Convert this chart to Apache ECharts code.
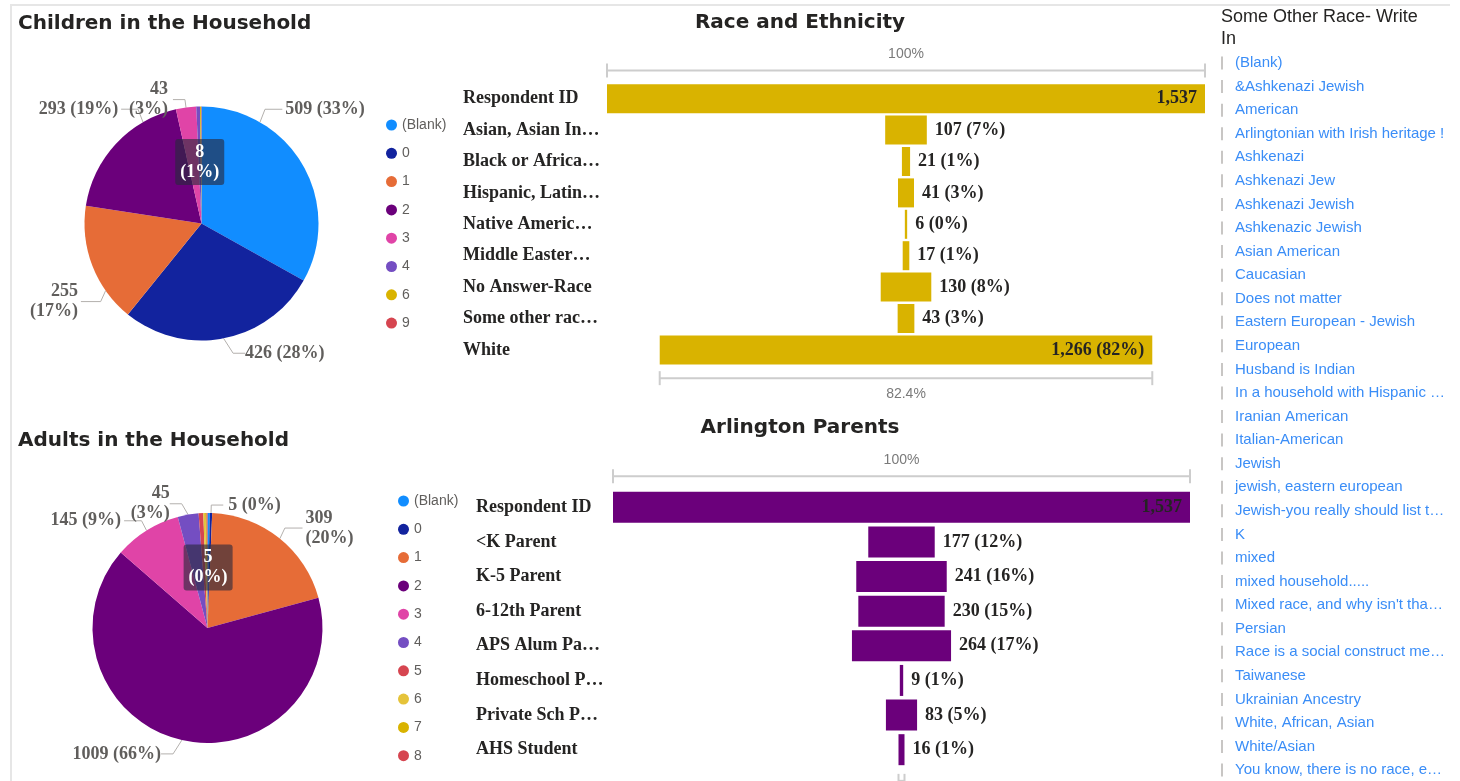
<!DOCTYPE html>
<html>
<head>
<meta charset="utf-8">
<title>Survey dashboard</title>
<script src="https://cdn.jsdelivr.net/npm/echarts@6/dist/echarts.min.js"></script>
<style>
html, body { margin: 0; padding: 0; background: #fff; }
#chart { width: 1460px; height: 781px; }
</style>
</head>
<body>
<div id="chart"></div>
<script>
// Children in the Household
const childCats = ['(Blank)', '0', '1', '2', '3', '4', '6', '9'];
const childVals = [509, 426, 255, 293, 43, 8, 2, 1];

// Adults in the Household
const adultCats = ['(Blank)', '0', '1', '2', '3', '4', '5', '6', '7', '8'];
const adultVals = [5, 5, 309, 1009, 145, 45, 10, 4, 3, 2];

// Race and Ethnicity
const raceCats = ['Respondent ID', 'Asian, Asian In…', 'Black or Africa…', 'Hispanic, Latin…',
  'Native Americ…', 'Middle Easter…', 'No Answer-Race', 'Some other rac…', 'White'];
const raceVals = [1537, 107, 21, 41, 6, 17, 130, 43, 1266];

// Arlington Parents
const parentCats = ['Respondent ID', '<K Parent', 'K-5 Parent', '6-12th Parent',
  'APS Alum Pa…', 'Homeschool P…', 'Private Sch P…', 'AHS Student'];
const parentVals = [1537, 177, 241, 230, 264, 9, 83, 16];

// Some Other Race - Write In
const writeIns = ['(Blank)', '&Ashkenazi Jewish', 'American', 'Arlingtonian with Irish heritage !',
  'Ashkenazi', 'Ashkenazi Jew', 'Ashkenazi Jewish', 'Ashkenazic Jewish', 'Asian American',
  'Caucasian', 'Does not matter', 'Eastern European - Jewish', 'European', 'Husband is Indian',
  'In a household with Hispanic …', 'Iranian American', 'Italian-American', 'Jewish',
  'jewish, eastern european', 'Jewish-you really should list t…', 'K', 'mixed',
  'mixed household.....', "Mixed race, and why isn't tha…", 'Persian',
  'Race is a social construct me…', 'Taiwanese', 'Ukrainian Ancestry', 'White, African, Asian',
  'White/Asian', 'You know, there is no race, e…'];

const childColors = ['#118DFF', '#12239E', '#E66C37', '#6B007B', '#E044A7', '#744EC2', '#D9B300', '#D64550'];
const adultColors = ['#118DFF', '#12239E', '#E66C37', '#6B007B', '#E044A7', '#744EC2', '#D64550', '#E5C33A', '#D9B300', '#D64550'];

// label nudges [dx, dy, leader anchor angle in deg from 12 o'clock] so labels sit like Power BI put them
const childNudge = { '(Blank)': [-41, -51, 30], '1': [10, 33, 235], '2': [25, -29, 330], '0': [3, 7] };
const adultNudge = { '3': [11, -18, 328], '1': [3, -9, 39], '4': [0, -3], '2': [-2, 6] };

const serif = 'Liberation Serif';
const sans = 'Liberation Sans';
const fmt = v => v.toLocaleString('en-US');
const sum = arr => arr.reduce((a, b) => a + b, 0);

const myCharts = echarts.init(document.getElementById('chart'));

// pie slices, tiny ones unlabelled, one shown inside in a dark box
function pieData(cats, vals, colors, hidden, inner) {
  const total = sum(vals);
  return cats.map((c, i) => {
    const item = { name: c, value: vals[i], itemStyle: { color: colors[i] } };
    if (hidden.includes(c)) {
      item.label = { show: false };
      item.labelLine = { show: false };
    }
    if (c === inner) {
      item.label = {
        position: 'inside',
        color: '#fff',
        backgroundColor: 'rgba(40,40,60,0.62)',
        borderRadius: 3,
        padding: [3, 5],
        formatter: p => p.value + '\n(' + Math.round(p.value / total * 100) + '%)'
      };
      item.labelLine = { show: false };
    }
    return item;
  });
}

function pieSeries(cats, vals, colors, center, radius, wrap, hidden, inner, nudge) {
  const total = sum(vals);
  return {
    type: 'pie',
    center: center,
    radius: radius,
    startAngle: 90,
    clockwise: true,
    silent: true,
    avoidLabelOverlap: true,
    label: {
      fontFamily: serif,
      fontSize: 18,
      fontWeight: 'bold',
      color: '#605E5C',
      lineHeight: 20,
      formatter: p => p.value + (wrap.includes(p.name) ? '\n' : ' ') + '(' + Math.round(p.value / total * 100) + '%)'
    },
    labelLine: {
      length: 8,
      length2: 12,
      lineStyle: { color: '#B3B0AD', width: 1 }
    },
    labelLayout: function (params) {
      const d = nudge[cats[params.dataIndex]];
      if (!d) return {};
      const r = params.labelRect;
      const onLeft = r.x + r.width / 2 < center[0];
      const out = {
        x: (onLeft ? r.x + r.width : r.x) + d[0],
        y: r.y + d[1],
        align: onLeft ? 'right' : 'left',
        verticalAlign: 'top'
      };
      if (d[2] != null) {
        const a = d[2] * Math.PI / 180;
        const p0 = [center[0] + radius * Math.sin(a), center[1] - radius * Math.cos(a)];
        const midY = r.y + d[1] + r.height / 2;
        const s = onLeft ? -1 : 1;
        const edge = onLeft ? r.x + r.width + d[0] + 3 : r.x + d[0] - 3;
        out.labelLinePoints = [p0, [p0[0] + s * 5, midY], [edge, midY]];
      }
      return out;
    },
    data: pieData(cats, vals, colors, hidden, inner)
  };
}

function legendOf(cats, colors, left, top) {
  return {
    data: cats.map((c, i) => ({ name: c, itemStyle: { color: colors[i] } })),
    orient: 'vertical',
    left: left,
    top: top,
    icon: 'circle',
    itemWidth: 11,
    itemHeight: 11,
    itemGap: 14.3,
    padding: 0,
    selectedMode: false,
    textStyle: { fontFamily: sans, fontSize: 14, lineHeight: 14, color: '#605E5C' }
  };
}

// centred bars: a transparent offset of (total - v) / 2, then the bar itself
function funnelSeries(idx, vals, color, barWidth) {
  const total = vals[0];
  const last = vals.length - 1;
  return [{
    type: 'bar',
    xAxisIndex: idx,
    yAxisIndex: idx,
    stack: 'f' + idx,
    barWidth: barWidth,
    silent: true,
    itemStyle: { color: 'transparent' },
    data: vals.map(v => (total - v) / 2)
  }, {
    type: 'bar',
    xAxisIndex: idx,
    yAxisIndex: idx,
    stack: 'f' + idx,
    barWidth: barWidth,
    silent: true,
    itemStyle: { color: color },
    label: {
      show: true,
      distance: 8,
      fontFamily: serif,
      fontSize: 18,
      fontWeight: 'bold',
      color: '#252423',
      formatter: p => {
        const v = vals[p.dataIndex];
        return p.dataIndex === 0 ? fmt(v) : fmt(v) + ' (' + Math.round(v / total * 100) + '%)';
      }
    },
    data: vals.map(v => ({
      value: v,
      label: { position: v / total > 0.5 ? 'insideRight' : 'right' }
    }))
  }, {
    // brackets above the first bar and below the last one
    type: 'custom',
    xAxisIndex: idx,
    yAxisIndex: idx,
    silent: true,
    data: [[vals[0], 0, -1], [vals[last], last, 1]],
    renderItem: function (params, api) {
      const v = api.value(0), cat = api.value(1), dir = api.value(2);
      const l = api.coord([(total - v) / 2, cat]);
      const r = api.coord([(total + v) / 2, cat]);
      const band = api.size([0, 1])[1];
      const y = l[1] + dir * band * 0.9;
      const pct = v / total * 100;
      const txt = (pct === 100 ? '100' : pct.toFixed(1)) + '%';
      const ls = { stroke: '#CDCDCD', lineWidth: 2 };
      return {
        type: 'group',
        children: [
          { type: 'line', shape: { x1: l[0], y1: y, x2: r[0], y2: y }, style: ls },
          { type: 'line', shape: { x1: l[0], y1: y - 7, x2: l[0], y2: y + 7 }, style: ls },
          { type: 'line', shape: { x1: r[0], y1: y - 7, x2: r[0], y2: y + 7 }, style: ls },
          {
            type: 'text',
            style: {
              text: txt,
              x: (l[0] + r[0]) / 2,
              y: y + dir * 9,
              align: 'center',
              verticalAlign: dir < 0 ? 'bottom' : 'top',
              fill: '#7A7A7A',
              font: '14px ' + sans
            }
          }
        ]
      };
    }
  }];
}

function catAxis(idx, cats, margin) {
  return {
    gridIndex: idx,
    type: 'category',
    inverse: true,
    data: cats,
    axisLine: { show: false },
    axisTick: { show: false },
    axisLabel: {
      align: 'left',
      margin: margin,
      fontFamily: serif,
      fontSize: 18,
      fontWeight: 'bold',
      color: '#252423'
    }
  };
}

// titles, frame and the write-in list
const graphic = [
  { type: 'line', shape: { x1: 10, y1: 5, x2: 1450, y2: 5 }, style: { stroke: '#E6E6E6', lineWidth: 2 } },
  { type: 'line', shape: { x1: 11, y1: 5, x2: 11, y2: 781 }, style: { stroke: '#E6E6E6', lineWidth: 2 } },
  { type: 'text', left: 18, top: 14, style: { text: 'Children in the Household', font: 'bold 20px DejaVu Sans', fill: '#252423' } },
  { type: 'text', left: 18, top: 431, style: { text: 'Adults in the Household', font: 'bold 20px DejaVu Sans', fill: '#252423' } },
  { type: 'text', x: 800, y: 23, style: { text: 'Race and Ethnicity', font: 'bold 20px DejaVu Sans', fill: '#252423', align: 'center', verticalAlign: 'middle' } },
  { type: 'text', x: 800, y: 428, style: { text: 'Arlington Parents', font: 'bold 20px DejaVu Sans', fill: '#252423', align: 'center', verticalAlign: 'middle' } },
  { type: 'text', x: 1221, y: 6, style: { text: 'Some Other Race- Write In', width: 210, overflow: 'break', lineHeight: 22, font: '18px ' + sans, fill: '#252423' } }
];
writeIns.forEach((t, i) => {
  const y = 63 + i * 23.57;
  graphic.push({ type: 'rect', shape: { x: 1221, y: y - 6.5, width: 2, height: 13 }, style: { fill: '#C8C6C4' } });
  graphic.push({ type: 'text', x: 1235, y: y, style: { text: t, font: '15px ' + sans, fill: '#3A8DF7', verticalAlign: 'middle' } });
});

const option = {
  animation: false,
  graphic: graphic,
  legend: [
    legendOf(childCats, childColors, 386, 118),
    legendOf(adultCats, adultColors, 398, 494)
  ],
  grid: [
    { left: 607, top: 83, width: 598, height: 282.6 },
    { left: 613, top: 490, width: 577, height: 277 }
  ],
  xAxis: [
    { gridIndex: 0, type: 'value', min: 0, max: raceVals[0], show: false },
    { gridIndex: 1, type: 'value', min: 0, max: parentVals[0], show: false }
  ],
  yAxis: [
    catAxis(0, raceCats, 144),
    catAxis(1, parentCats, 137)
  ],
  series: [
    pieSeries(childCats, childVals, childColors, [201.5, 223.5], 117, ['1', '3'], ['6', '9'], '4', childNudge),
    pieSeries(adultCats, adultVals, adultColors, [207.5, 628], 115, ['1', '4'], ['5', '6', '7', '8'], '(Blank)', adultNudge)
  ].concat(funnelSeries(0, raceVals, '#D9B300', 29), funnelSeries(1, parentVals, '#6B007B', 31))
};

myCharts.setOption(option);
</script>
</body>
</html>
